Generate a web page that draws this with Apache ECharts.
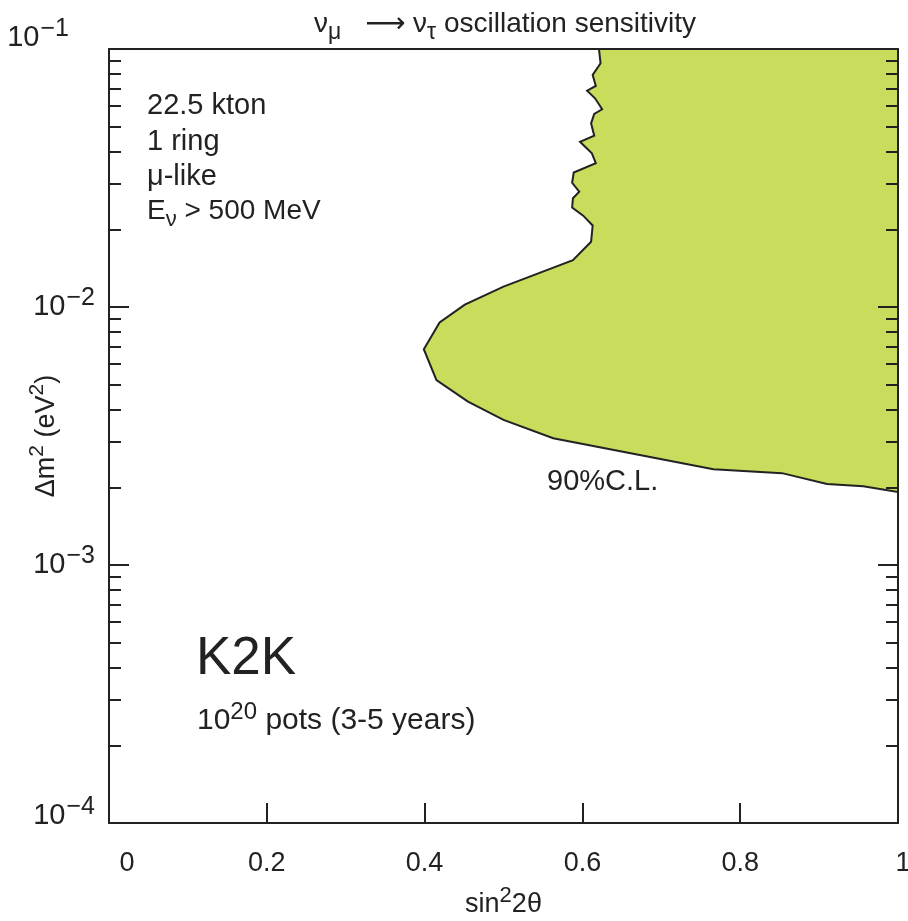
<!DOCTYPE html>
<html>
<head>
<meta charset="utf-8">
<script src="https://cdn.jsdelivr.net/npm/echarts@6/dist/echarts.min.js"></script>
<style>
html,body{margin:0;padding:0;background:#fff;}
#chart{width:908px;height:921px;}
</style>
</head>
<body>
<div id="chart"></div>
<script>
// ---- data ----
// 90% C.L. sensitivity contour: [sin^2 2theta, dm^2 (eV^2)], from top edge to right edge
var contourSin2 = [0.621, 0.623, 0.613, 0.617, 0.606, 0.616, 0.625, 0.615, 0.611, 0.615,
  0.597, 0.612, 0.617, 0.589, 0.587, 0.596, 0.588, 0.587, 0.601, 0.613,
  0.611, 0.588, 0.500, 0.451, 0.419, 0.399, 0.415, 0.455, 0.500, 0.563,
  0.766, 0.853, 0.910, 0.956, 1.000];
var contourDm2 = [0.100, 0.0880, 0.0793, 0.0719, 0.0689, 0.0644, 0.0584, 0.0560, 0.0515, 0.0461,
  0.0437, 0.0394, 0.0361, 0.0332, 0.0303, 0.0280, 0.0264, 0.0243, 0.0226, 0.0207,
  0.0179, 0.0152, 0.0120, 0.01022, 0.00871, 0.00686, 0.00521, 0.00430, 0.00365, 0.00310,
  0.00235, 0.00227, 0.00206, 0.00202, 0.00192];
// corner closing the allowed region (upper-right of plot)
var regionCorner = [1.0, 0.1];
var xTicks = [0, 0.2, 0.4, 0.6, 0.8, 1];
var yMajorExponents = [-4, -3, -2, -1];
var yMinorTicks = [2e-4,3e-4,4e-4,5e-4,6e-4,7e-4,8e-4,9e-4,
                   2e-3,3e-3,4e-3,5e-3,6e-3,7e-3,8e-3,9e-3,
                   2e-2,3e-2,4e-2,5e-2,6e-2,7e-2,8e-2,9e-2];

var FONT = '"Liberation Sans", Arial, Helvetica, sans-serif';
var INK = '#222';
var FILL = '#c9dc5c';

var contour = contourSin2.map(function (x, i) { return [x, contourDm2[i]]; });
var polygonData = contour.concat([regionCorner]);
var yMajorValues = yMajorExponents.map(function (e) { return Math.pow(10, e); });

var chart = echarts.init(document.getElementById('chart'), null, {renderer: 'canvas'});

function yLabelFmt(v) {
  var e = Math.round(Math.log10(v));
  var s = String(e).replace('-', '\u2212');
  if (e === -1) return '{bT|10}{sT|' + s + '}';
  if (e === -4) return '{bB|10}{sB|' + s + '}';
  return '{b|10}{s|' + s + '}';
}
var yRich = {
  b:  {fontSize: 29, fontFamily: FONT, color: INK},
  s:  {fontSize: 25, fontFamily: FONT, color: INK, padding: [0, 0, 18, 1]},
  bT: {fontSize: 29, fontFamily: FONT, color: INK, padding: [0, 0, 22, 0]},
  sT: {fontSize: 25, fontFamily: FONT, color: INK, padding: [0, 26, 40, 1]},
  bB: {fontSize: 29, fontFamily: FONT, color: INK, padding: [0, 0, 14, 0]},
  sB: {fontSize: 25, fontFamily: FONT, color: INK, padding: [0, 0, 32, 1]}
};

function yAxisDef(pos, major) {
  return {
    type: 'log', logBase: 10, min: 1e-4, max: 1e-1,
    position: pos,
    z: 10,
    axisLine: {show: major, lineStyle: {color: INK, width: 2}},
    axisTick: {show: true, inside: true, length: major ? 20 : 12,
               lineStyle: {color: INK, width: 2},
               customValues: major ? yMajorValues : yMinorTicks},
    axisLabel: major && pos === 'left' ? {
      show: true, margin: 14, formatter: yLabelFmt, rich: yRich,
      customValues: yMajorValues
    } : {show: false},
    splitLine: {show: false},
    minorTick: {show: false},
    name: (major && pos === 'left') ? '{a|\u0394m}{s|2}{a| (eV}{s|2}{a|)}' : '',
    nameLocation: 'middle',
    nameGap: 43,
    nameRotate: 90,
    nameMoveOverlap: false,
    nameTextStyle: {
      rich: {
        a: {fontSize: 27, fontFamily: FONT, color: INK},
        s: {fontSize: 21, fontFamily: FONT, color: INK, padding: [0, 0, 18, 0]}
      }
    }
  };
}

var option = {
  backgroundColor: '#fff',
  animation: false,
  title: {
    text: '{g|\u03bd}{sub|\u03bc}{ar|\u27f6}{g| \u03bd}{sub|\u03c4}{g| oscillation sensitivity}',
    left: 500, top: 0, textAlign: 'center',
    textStyle: {
      fontWeight: 'normal',
      rich: {
        g: {fontSize: 28, fontFamily: FONT, color: INK, fontWeight: 'normal'},
        ar: {fontSize: 28, fontFamily: '"DejaVu Sans", sans-serif', color: INK, fontWeight: 'normal', padding: [0, 0, 0, 24]},
        sub: {fontSize: 23, fontFamily: FONT, color: INK, fontWeight: 'normal', padding: [16, 0, 0, 0]}
      }
    }
  },
  grid: {left: 109, right: 10, top: 49, bottom: 98, containLabel: false, outerBoundsMode: 'none'},
  xAxis: [{
    type: 'value', min: 0, max: 1, interval: 0.2, position: 'bottom',
    z: 10,
    axisLine: {show: true, lineStyle: {color: INK, width: 2}},
    axisTick: {show: true, inside: true, length: 20, lineStyle: {color: INK, width: 2}},
    axisLabel: {
      margin: 27, fontSize: 27, fontFamily: FONT, color: INK,
      customValues: xTicks,
      formatter: function (v) {
        if (v === 0) return '{z|0}';
        if (v === 1) return '{o|1}';
        return String(v);
      },
      rich: {
        z: {fontSize: 27, fontFamily: FONT, color: INK, padding: [0, 0, 0, 36]},
        o: {fontSize: 27, fontFamily: FONT, color: INK, padding: [0, 0, 0, 10]}
      }
    },
    splitLine: {show: false},
    name: '{a|sin}{s|2}{a|2\u03b8}',
    nameLocation: 'middle', nameGap: 62,
    nameMoveOverlap: false,
    nameTextStyle: {
      rich: {
        a: {fontSize: 27, fontFamily: FONT, color: INK},
        s: {fontSize: 22, fontFamily: FONT, color: INK, padding: [0, 0, 18, 0]}
      }
    }
  }, {
    type: 'value', min: 0, max: 1, position: 'top',
    z: 10,
    axisLine: {show: true, lineStyle: {color: INK, width: 2}},
    axisTick: {show: false}, axisLabel: {show: false}, splitLine: {show: false}
  }],
  yAxis: [yAxisDef('left', true), yAxisDef('left', false), yAxisDef('right', true), yAxisDef('right', false)],
  series: [{
    type: 'custom',
    xAxisIndex: 0, yAxisIndex: 0,
    clip: true,
    data: [polygonData[0]],
    renderItem: function (params, api) {
      var pts = polygonData.map(function (p) { return api.coord(p); });
      return {
        type: 'polygon',
        shape: {points: pts},
        style: {fill: FILL, stroke: INK, lineWidth: 2, lineJoin: 'miter'}
      };
    },
    z: 1
  }],
  graphic: [
    {type: 'text', left: 147, top: 91, z: 10, style: {text: '22.5 kton', font: '29px ' + FONT, fill: INK}},
    {type: 'text', left: 147, top: 127, z: 10, style: {text: '1 ring', font: '29px ' + FONT, fill: INK}},
    {type: 'text', left: 147, top: 162, z: 10, style: {text: '\u03bc-like', font: '29px ' + FONT, fill: INK}},
    {type: 'text', left: 147, top: 197, z: 10, style: {
      text: '{a|E}{sub|\u03bd}{a| > 500 MeV}',
      rich: {
        a: {fontSize: 28, fontFamily: FONT, fill: INK},
        sub: {fontSize: 22, fontFamily: FONT, fill: INK, padding: [18, 0, 0, 0]}
      }}},
    {type: 'text', left: 196, top: 633, z: 10, style: {text: 'K2K', font: '53px ' + FONT, fill: INK}},
    {type: 'text', left: 197, top: 700, z: 10, style: {
      text: '{a|10}{s|20}{a| pots (3-5 years)}',
      rich: {
        a: {fontSize: 30, fontFamily: FONT, fill: INK},
        s: {fontSize: 24, fontFamily: FONT, fill: INK, padding: [0, 0, 18, 0]}
      }}},
    {type: 'text', left: 547, top: 467, z: 10, style: {text: '90%C.L.', font: '29px ' + FONT, fill: INK}}
  ]
};
chart.setOption(option);
</script>
</body>
</html>
